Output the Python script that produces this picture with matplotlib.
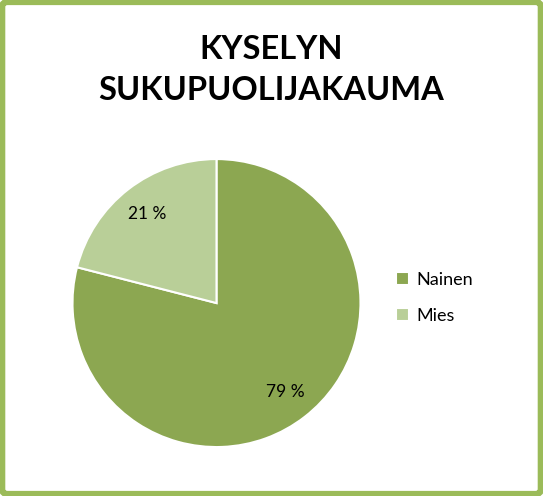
import matplotlib
matplotlib.use("Agg")
import matplotlib.pyplot as plt
from matplotlib.patches import FancyBboxPatch

labels = ["Nainen", "Mies"]
values = [79, 21]
colors = ["#8CA751", "#B9CF98"]

plt.rcParams["font.family"] = ["Lato", "DejaVu Sans"]

fig = plt.figure(figsize=(5.43, 4.96), dpi=100, facecolor="white")

# green frame round the chart
frame = FancyBboxPatch((0.004, 0.004), 0.992, 0.992, boxstyle="round,pad=0,rounding_size=0.01",
                       transform=fig.transFigure, facecolor="none", edgecolor="#9BBB59",
                       linewidth=4.5, zorder=5)
fig.patches.append(frame)

fig.text(0.50, 0.900, "KYSELYN", ha="center", va="center", fontsize=23.5, fontweight="bold")
fig.text(0.50, 0.818, "SUKUPUOLIJAKAUMA", ha="center", va="center", fontsize=23.5, fontweight="bold")

ax = fig.add_axes([0.1335, 0.0987, 0.5304, 0.5806])
wedges, texts, autotexts = ax.pie(values, colors=colors, startangle=90, counterclock=False,
                                  autopct=lambda p: "%d %%" % round(p), pctdistance=0.78,
                                  wedgeprops=dict(edgecolor="white", linewidth=1.5),
                                  textprops=dict(fontsize=12.5, color="black"))
ax.set_xlim(-1.0, 1.0)
ax.set_ylim(-1.0, 1.0)
ax.set_aspect("equal")

fig.legend(wedges, labels, loc="center left", bbox_to_anchor=(0.70, 0.40), frameon=False,
           fontsize=13, handlelength=0.7, handleheight=0.7, handletextpad=0.4, labelspacing=1.1)

fig.savefig("out.png", dpi=100)
